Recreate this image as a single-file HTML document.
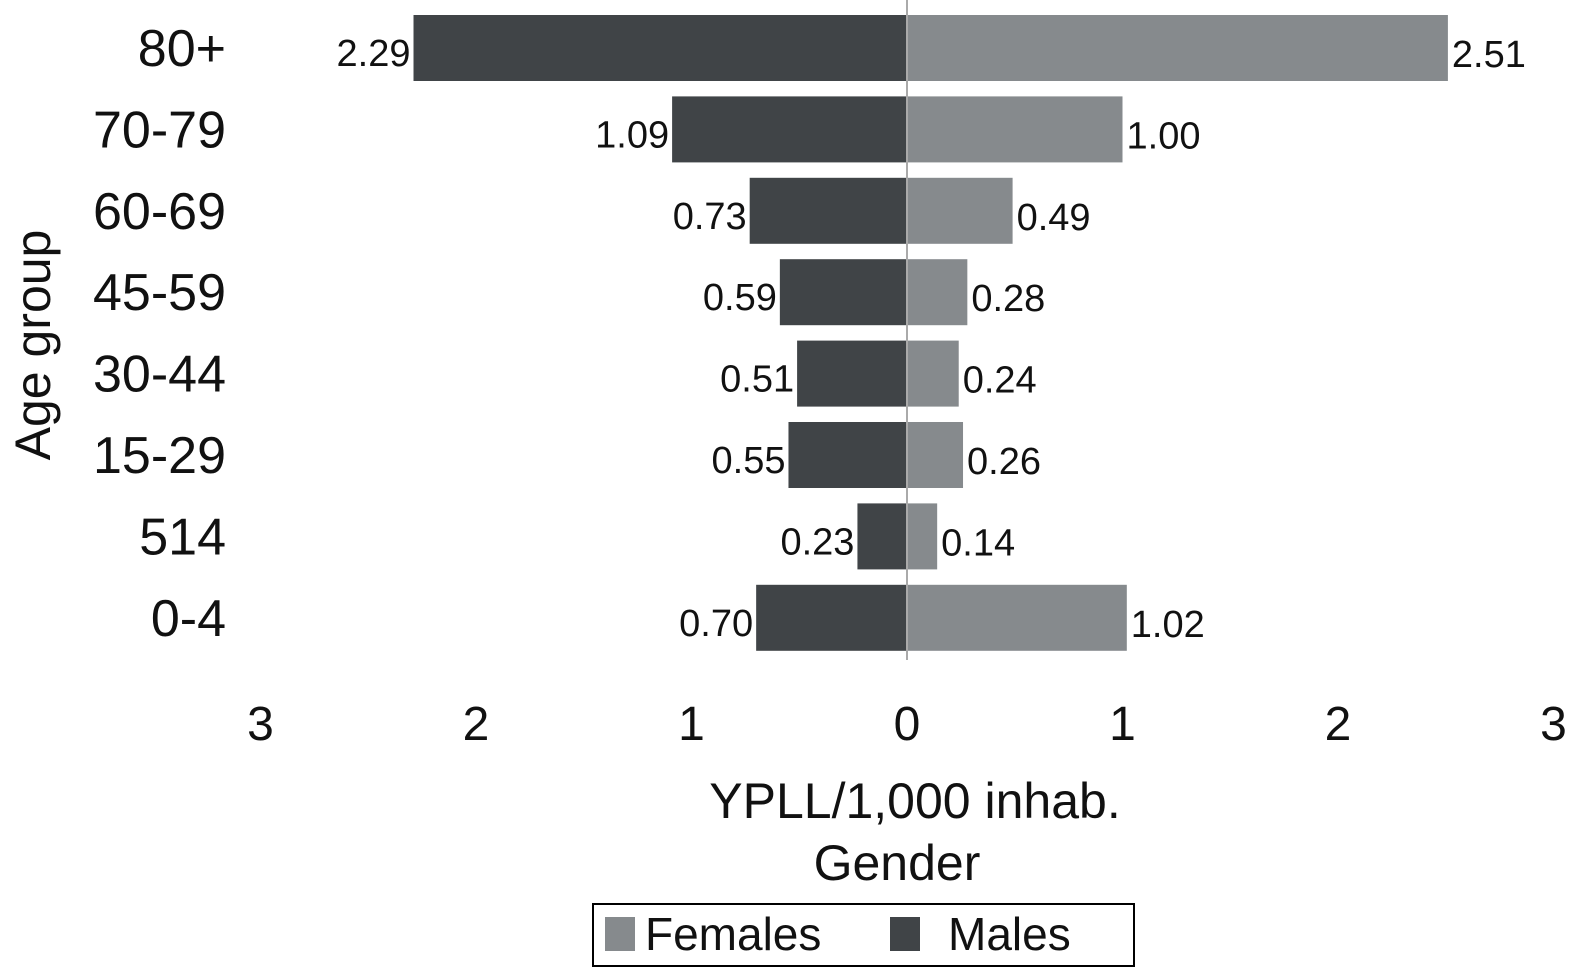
<!DOCTYPE html>
<html><head><meta charset="utf-8"><style>
body{margin:0;background:#fff;}
svg text{font-family:"Liberation Sans",Arial,sans-serif;fill:#111;}
</style></head><body>
<svg id="chart" width="1577" height="973" viewBox="0 0 1577 973" xmlns="http://www.w3.org/2000/svg">
<g id="marks"></g>
<text x="50" y="345" font-size="50" text-anchor="middle" transform="rotate(-90 50 345)">Age group</text>
<text x="915" y="818" font-size="50" text-anchor="middle">YPLL/1,000 inhab.</text>
<text x="897" y="880" font-size="50" text-anchor="middle">Gender</text>
<g>
<rect x="593" y="904" width="541" height="62" fill="none" stroke="#000" stroke-width="2"/>
<g><rect x="605" y="917" width="30" height="34" fill="#868a8d"/><text x="645" y="950" font-size="46">Females</text></g>
<g><rect x="890" y="917" width="30" height="34" fill="#404447"/><text x="948" y="950" font-size="46">Males</text></g>
</g>
</svg>
<script>
const categories=["80+","70-79","60-69","45-59","30-44","15-29","514","0-4"];
const males=[2.29,1.09,0.73,0.59,0.51,0.55,0.23,0.70];
const females=[2.51,1.00,0.49,0.28,0.24,0.26,0.14,1.02];
const tickValues=[3,2,1,0,1,2,3];
const tickSigned=[-3,-2,-1,0,1,2,3];
const NS="http://www.w3.org/2000/svg";
const g=document.getElementById('marks');
const x0=907,unit=215.5;
const xs=v=>x0+v*unit;
const y0=48,step=81.4,bh=66;
const yc=i=>y0+i*step;
function mk(t,a){const e=document.createElementNS(NS,t);for(const k in a)e.setAttribute(k,a[k]);g.appendChild(e);return e;}
categories.forEach((c,i)=>{
  const t=mk('text',{x:226,y:yc(i)+18,'font-size':52,'text-anchor':'end'});t.textContent=c;
  
  
  const m=mk('rect',{x:xs(-males[i]),y:yc(i)-bh/2,width:males[i]*unit,height:bh,fill:'#404447'});
  
  
  const f=mk('rect',{x:x0,y:yc(i)-bh/2,width:females[i]*unit,height:bh,fill:'#868a8d'});
  
  
  const ml=mk('text',{x:xs(-males[i])-3,y:yc(i)+18,'font-size':38,'text-anchor':'end'});ml.textContent=males[i].toFixed(2);
  
  
  const fl=mk('text',{x:xs(females[i])+4,y:yc(i)+19,'font-size':38});fl.textContent=females[i].toFixed(2);
  
  
});
const zl=mk('line',{x1:x0,x2:x0,y1:0,y2:660,stroke:'#aaa','stroke-width':2});


tickSigned.forEach((v,i)=>{
  const t=mk('text',{x:xs(v),y:740,'font-size':48,'text-anchor':'middle'});t.textContent=tickValues[i];
  
  
});
</script>
</body></html>
